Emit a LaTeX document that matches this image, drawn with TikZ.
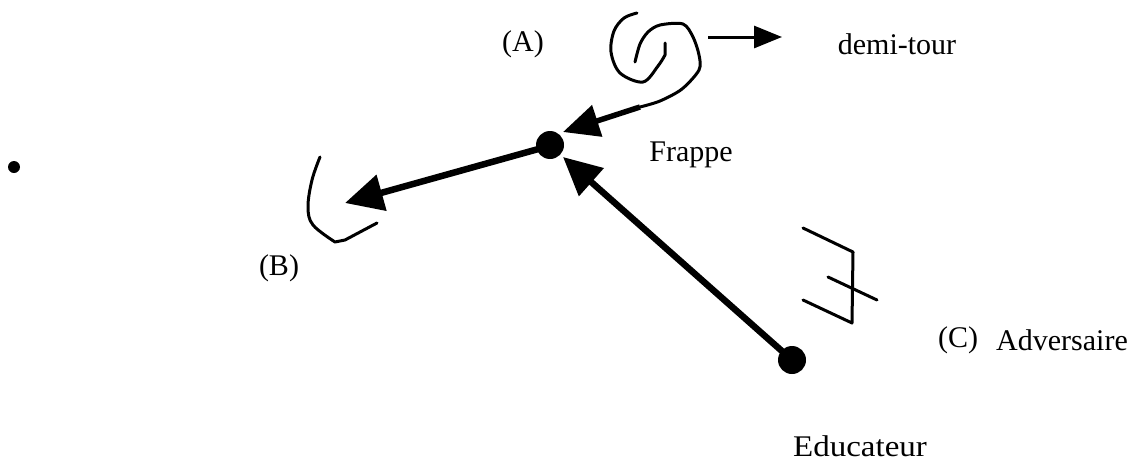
\documentclass[tikz,border=0pt]{standalone}
\usepackage{fontspec}
\setmainfont{Liberation Serif}
\usetikzlibrary{arrows.meta}
\tikzset{
  lbl/.style={font=\fontsize{30}{30}\selectfont, inner sep=0pt},
  bigdot/.style={circle, fill=black, minimum size=28pt, inner sep=0pt},
  smalldot/.style={circle, fill=black, minimum size=12pt, inner sep=0pt},
  bigarrow/.style={line width=6.5pt, -{Triangle[length=38pt,width=36pt]}},
  stroke/.style={line width=3pt, line cap=round, line join=round},
}
\begin{document}
\begin{tikzpicture}[x=1pt,y=-1pt]
\useasboundingbox (0,0) rectangle (1134,463);
% labels
\node[lbl] (la) at (523,44) {(A)};
\node[lbl] (demi) at (897,44) {demi-tour};
\node[lbl] (frp) at (691,155) {Frappe};
\node[lbl] (lb) at (279,268) {(B)};
\node[lbl] (lc) at (958,340) {(C)};
\node[lbl] (adv) at (1062,340) {Adversaire};
\node[lbl, xscale=1.1] (edu) at (860,446) {Educateur};
% dots
\node[smalldot] (sd) at (14,167) {};
\node[bigdot] (fd) at (550,145) {};
\node[bigdot] (ed) at (792,360) {};
% free ends
\coordinate (btip) at (345,203);
\coordinate (ftip1) at (563,132);
\coordinate (ftip2) at (563,157);
\coordinate (sp) at (640,107);
\coordinate (rs) at (708,37);
\coordinate (rt) at (782,37);
% main arrows
\draw[bigarrow] (fd.center) ++(-8,3) -- (btip);
\draw[bigarrow] (ed.center) -- (ftip2);
\draw[line width=5.5pt, -{Triangle[length=36pt,width=32pt]}] (sp) -- (ftip1);
% spiral
\draw[stroke] plot[smooth, tension=0.55] coordinates {(637,13) (624,18) (614,31) (611,52) (620,73) (643,82) (658,66) (665,55)} -- (665,43);
\draw[stroke] plot[smooth, tension=0.5] coordinates {(635,62) (640,44) (648,32) (660,25) (683,24) (693,37) (699,55) (699,70) (682,89) (660,101) (640,107)};
% demi-tour arrow
\draw[line width=3pt, -{Triangle[length=28pt,width=22pt]}] (rs) -- (rt);
% (B) curve
\draw[stroke] plot[smooth, tension=0.6] coordinates {(320,157) (312,180) (308,207) (313,225) (335,242)} -- (345,240) -- (377,223);
% adversary symbol
\draw[stroke] (803,228) -- (853,252) -- (852,323) -- (803,300);
\draw[stroke] (828,277) -- (877,300);
\end{tikzpicture}
\end{document}
